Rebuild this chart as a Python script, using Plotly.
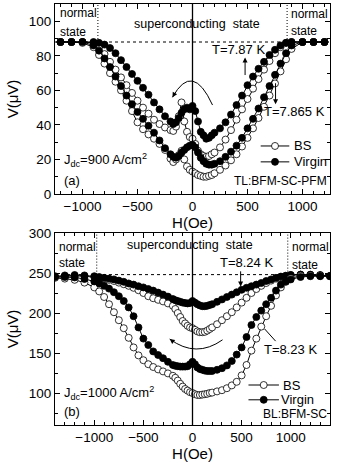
import plotly.graph_objects as go
from plotly.subplots import make_subplots

# ---- panel (a) data: H in Oe, V in microvolt
H_top = [-1200, -1100, -1000, -900,
         -850, -800, -750, -700, -650, -600, -550, -500, -450, -400, -350, -300, -250,
         -200, -175, -150, -125, -100, -75, -50, -25, 0, 25, 50, 75, 100, 125, 150, 175, 200,
         250, 300, 350, 400, 450, 500, 550, 600, 650, 700, 750, 800, 850,
         900, 1000, 1100, 1200]

virgin_787 = [88, 88, 88, 88,
              87.5, 86.5, 84.5, 81.5, 77.5, 73.5, 69.5, 65.5, 61.5, 57.5, 53, 49, 45,
              42, 40.5, 41.5, 44, 47, 49, 50, 49, 51, 48, 42, 36, 34, 32, 32.5, 34, 35.5,
              38, 41.5, 46, 51.5, 57, 63, 68, 72.5, 76.5, 80.5, 83.5, 86, 87.5,
              88, 88, 88, 88]
bs_787 = [88, 88, 88, 87.5,
          85, 81, 76.5, 72, 67.5, 63, 58.5, 54, 50, 46.5, 43, 40.5, 38.5,
          37, 36.5, 39, 45, 53, 42, 36, 33, 32, 29, 25, 23, 22, 21.5, 22, 23, 24,
          27, 31.5, 37, 43, 49, 55, 61, 66.5, 72, 77, 81.5, 85, 87.5,
          88, 88, 88, 88]
virgin_7865 = [88, 88, 88, 86,
               83, 78.5, 73.5, 68, 62.5, 57, 52, 47.5, 43.5, 39.5, 35.5, 31, 26.5,
               23, 21.5, 21, 22, 24, 25.5, 27, 28, 28.5, 27, 24, 21, 19, 17.5, 17, 17, 17.5,
               19, 21.5, 24.5, 28, 32.5, 38, 43.5, 49.5, 56, 62.5, 69, 75.5, 81.5,
               86, 88, 88, 88]
bs_7865 = [88, 88, 87.5, 85,
           80.5, 75.5, 70, 65, 60, 54, 48, 41.5, 37.5, 34.5, 32, 29, 25.5,
           20.5, 18.5, 20, 22.5, 25, 20, 16, 14, 13, 12, 11, 10.5, 10, 10, 10.5, 11, 12,
           14, 16.5, 19.5, 23, 27.5, 32.5, 38, 44, 50.5, 57, 64, 71, 78,
           84, 88, 88, 88]

# ---- panel (b) data
H_bot = [-1400, -1300, -1200, -1100, -1000,
         -950, -900, -850, -800, -750, -700, -650, -600, -550, -500, -450, -400, -350, -300, -250,
         -200, -175, -150, -125, -100, -75, -50, -25, 0, 25, 50, 75, 100, 125, 150, 175, 200,
         250, 300, 350, 400, 450, 500, 550, 600, 650, 700, 750, 800, 850, 900, 950,
         1000, 1100, 1200, 1300, 1400]

virgin_824 = [246, 247, 247.5, 247, 246,
              245, 244, 243, 242, 240.5, 239, 237, 235.5, 233.5, 232, 230, 228, 225.5, 223, 220.5,
              217.5, 216, 215, 214, 213, 212.5, 212, 212.5, 215, 213, 211, 209.5, 208.5, 208.5, 209, 210, 211,
              214, 217, 220, 223, 226, 229, 231.5, 233.5, 235.5, 237.5, 240, 242, 244, 245.5, 246.5,
              247.5, 248, 248, 247.5, 246.5]
bs_824 = [245, 246, 246.5, 246, 245,
          244, 243, 241.5, 240, 238, 236, 234, 231.5, 228.5, 225, 221, 218.5, 216.5, 214.5, 212,
          209, 205, 200, 195, 190, 187, 184, 182, 181, 179, 177, 176, 176, 176.5, 178, 180, 182,
          186, 191, 196, 201, 207, 213, 219, 225, 230, 234, 237.5, 240.5, 243, 245, 246.5,
          247.5, 248, 247.5, 247, 246]
virgin_823 = [245, 245, 244.5, 242.5, 239.5,
              237, 234, 230.5, 226, 221, 215, 207, 196, 182, 168, 160, 152, 147.5, 143.5, 139,
              135, 134, 133.5, 133, 133, 133, 133.5, 136, 139, 136, 132, 130, 129, 128, 127.5, 127.5, 127.5,
              129, 131, 134.5, 140, 148, 157, 170, 185, 195, 203, 211, 219, 228, 235.5, 239.5,
              242, 245, 246, 246, 246]
bs_823 = [244, 243, 241.5, 238, 232,
          227, 220, 211, 201, 191, 181, 169, 157, 147, 141, 136, 132.5, 129.5, 127, 124.5,
          121.5, 119, 115.5, 111.5, 108, 105, 103, 101, 100, 98.5, 97.5, 97.5, 98, 98.5, 99, 100, 100.5,
          102, 103.5, 106, 109.5, 114, 122, 135, 153, 168, 183, 196, 209, 222, 232, 239,
          243.5, 246.5, 247, 246.5, 246]

FONT = "Liberation Sans, Arial, sans-serif"

fig = make_subplots(rows=2, cols=1)


def add_curve(row, x, y, filled, name):
    fig.add_trace(go.Scatter(
        x=x, y=y, mode="lines+markers", name=name, showlegend=False,
        line=dict(color="black", width=1),
        marker=dict(symbol="circle", size=7,
                    color="black" if filled else "white",
                    line=dict(color="black", width=0.8))),
        row=row, col=1)


add_curve(1, H_top, bs_787, False, "BS")
add_curve(1, H_top, virgin_787, True, "Virgin")
add_curve(1, H_top, bs_7865, False, "BS")
add_curve(1, H_top, virgin_7865, True, "Virgin")

add_curve(2, H_bot, bs_824, False, "BS")
add_curve(2, H_bot, virgin_824, True, "Virgin")
add_curve(2, H_bot, bs_823, False, "BS")
add_curve(2, H_bot, virgin_823, True, "Virgin")

axis_common = dict(showline=True, linecolor="black", linewidth=1, mirror="ticks",
                   ticks="inside", ticklen=5, tickwidth=1, tickcolor="black",
                   showgrid=False, zeroline=False, automargin=False,
                   tickfont=dict(family=FONT, size=13.5, color="black"),
                   title_font=dict(family=FONT, size=15, color="black"))

fig.update_xaxes(axis_common)
fig.update_yaxes(axis_common)

fig.update_xaxes(range=[-1250, 1250], dtick=500, tick0=0,
                 minor=dict(dtick=100, ticklen=3, ticks="inside", tickcolor="black"),
                 title_text="H(Oe)", title_standoff=0, domain=[0, 1], row=1, col=1)
fig.update_yaxes(range=[0, 110], dtick=20, tick0=0,
                 minor=dict(dtick=10, ticklen=3, ticks="inside", tickcolor="black"),
                 title_text="V(\u03bcV)", title_standoff=6, domain=[0.5487, 1.0], row=1, col=1)
fig.update_xaxes(range=[-1400, 1400], dtick=500, tick0=0,
                 minor=dict(dtick=100, ticklen=3, ticks="inside", tickcolor="black"),
                 title_text="H(Oe)", title_standoff=0, domain=[0, 1], row=2, col=1)
fig.update_yaxes(range=[60, 300], dtick=50, tick0=0,
                 minor=dict(dtick=25, ticklen=3, ticks="inside", tickcolor="black"),
                 title_text="V(\u03bcV)", title_standoff=6, domain=[0, 0.456], row=2, col=1)

shapes = []
# panel a guides
shapes.append(dict(type="line", xref="x", yref="y domain", x0=0, x1=0, y0=0, y1=1,
                   line=dict(color="black", width=1.3)))
shapes.append(dict(type="line", xref="x domain", yref="y", x0=0, x1=1, y0=88, y1=88,
                   line=dict(color="black", width=1, dash="3px,3px")))
for xv in (-860, 860):
    shapes.append(dict(type="line", xref="x", yref="y", x0=xv, x1=xv, y0=88, y1=110,
                       line=dict(color="black", width=1, dash="1px,2px")))
shapes.append(dict(type="path", xref="x", yref="y",
                   path="M 182,51.5 Q 0,77 -182,56",
                   line=dict(color="black", width=1)))
# panel b guides
shapes.append(dict(type="line", xref="x2", yref="y2 domain", x0=0, x1=0, y0=0, y1=1,
                   line=dict(color="black", width=1.3)))
shapes.append(dict(type="line", xref="x2 domain", yref="y2", x0=0, x1=1, y0=248, y1=248,
                   line=dict(color="black", width=1, dash="3px,3px")))
for xv in (-975, 970):
    shapes.append(dict(type="line", xref="x2", yref="y2", x0=xv, x1=xv, y0=248, y1=300,
                       line=dict(color="black", width=1, dash="1px,2px")))
shapes.append(dict(type="path", xref="x2", yref="y2",
                   path="M 306,166.5 Q 37,143 -232,167.5",
                   line=dict(color="black", width=1)))


def legend_row(xr, yr, x0, x1, y, filled):
    shapes.append(dict(type="line", xref=xr, yref=yr, x0=x0, x1=x1, y0=y, y1=y,
                       line=dict(color="black", width=1)))
    xm = (x0 + x1) / 2
    shapes.append(dict(type="circle", xref=xr, yref=yr, xsizemode="pixel", ysizemode="pixel",
                       xanchor=xm, yanchor=y, x0=-3.5, x1=3.5, y0=-3.5, y1=3.5,
                       fillcolor="black" if filled else "white",
                       line=dict(color="black", width=0.8)))


legend_row("x", "y", 620, 880, 27.8, False)
legend_row("x", "y", 620, 880, 18.6, True)
legend_row("x2", "y2", 570, 880, 110, False)
legend_row("x2", "y2", 570, 880, 91.5, True)
fig.update_layout(shapes=shapes)


def txt(xr, yr, x, y, s, anchor="left", size=13):
    fig.add_annotation(xref=xr, yref=yr, x=x, y=y, text=s, showarrow=False,
                       xanchor=anchor, yanchor="middle",
                       font=dict(family=FONT, size=size, color="black"))


def arrow(xr, yr, x, y, ax, ay, head=2):
    fig.add_annotation(xref=xr, yref=yr, axref=xr, ayref=yr, x=x, y=y, ax=ax, ay=ay,
                       text="", showarrow=True, arrowhead=head, arrowsize=1,
                       arrowwidth=1, arrowcolor="black")


# panel a texts
txt("x", "y", -1225, 105, "normal", size=12)
txt("x", "y", -1225, 94, "state", size=12)
txt("x", "y", 45, 98.5, "superconducting  state", "center", 12.5)
txt("x", "y", 880, 104.5, "normal", size=12)
txt("x", "y", 880, 94.5, "state", size=12)
txt("x", "y", 420, 83.5, "T=7.87 K", "center")
txt("x", "y", 930, 48, "T=7.865 K", "center")
txt("x", "y", -1185, 19.5, "J<sub>dc</sub>=900 A/cm<sup>2</sup>")
txt("x", "y", -1185, 8, "(a)")
txt("x", "y", 1240, 7.5, "TL:BFM-SC-PFM", "right", 12)
txt("x", "y", 900, 27.8, "BS")
txt("x", "y", 900, 18.6, "Virgin")
arrow("x", "y", 478, 79, 478, 68)
arrow("x", "y", 755, 52, 755, 65)
arrow("x", "y", -182, 56, -160, 58.5)

# panel b texts
txt("x2", "y2", -1375, 283, "normal", size=12)
txt("x2", "y2", -1375, 262, "state", size=12)
txt("x2", "y2", -28, 285.5, "superconducting  state", "center", 12.5)
txt("x2", "y2", 995, 282, "normal", size=12)
txt("x2", "y2", 995, 260.5, "state", size=12)
txt("x2", "y2", 550, 263, "T=8.24 K", "center")
txt("x2", "y2", 995, 155, "T=8.23 K", "center")
txt("x2", "y2", -1330, 100, "J<sub>dc</sub>=1000 A/cm<sup>2</sup>")
txt("x2", "y2", -1330, 76.5, "(b)")
txt("x2", "y2", 1385, 74, "BL:BFM-SC", "right", 12)
txt("x2", "y2", 900, 110, "BS")
txt("x2", "y2", 880, 91.5, "Virgin")
arrow("x2", "y2", 490, 233, 490, 254)
arrow("x2", "y2", 735, 180, 860, 163, head=0)
arrow("x2", "y2", -232, 167.5, -205, 165)

fig.update_layout(
    width=354, height=463,
    margin=dict(l=55, r=24, t=4, b=38, autoexpand=False),
    paper_bgcolor="white", plot_bgcolor="white",
)

fig.write_html("out.html", config={"displayModeBar": False},
               post_script="document.body.style.margin='0';")
